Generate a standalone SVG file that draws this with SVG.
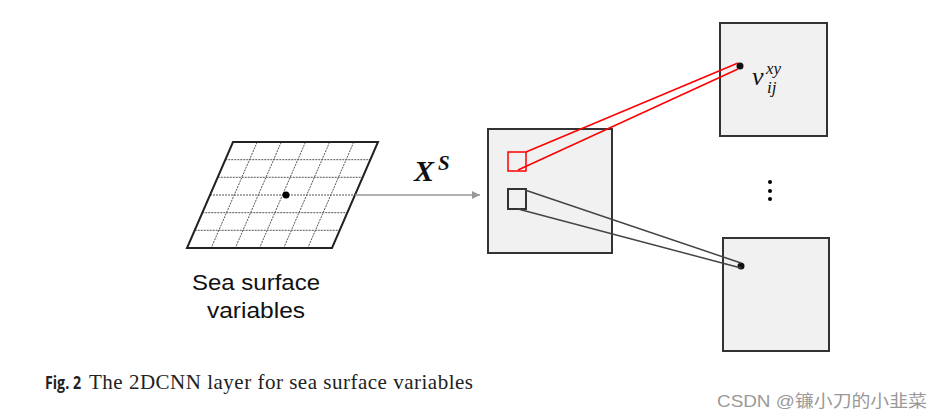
<svg xmlns="http://www.w3.org/2000/svg" width="943" height="419" viewBox="0 0 943 419">
<style>
.box{fill:#f1f1f1;stroke:#333;stroke-width:2}
.grid{stroke:#555;stroke-width:1;stroke-dasharray:2 1;fill:none}
.red{stroke:#f00;stroke-width:1.5;fill:none}
.dark{stroke:#444;stroke-width:1.5;fill:none}
.math{font-family:"Liberation Serif",serif;font-style:italic;fill:#111}
.sans{font-family:"Liberation Sans",Arial,sans-serif;fill:#111}
</style>
<defs>
<marker id="arr" viewBox="0 0 10 10" refX="10" refY="5" markerWidth="10" markerHeight="8" markerUnits="userSpaceOnUse" orient="auto">
<path d="M0,0 L10,5 L0,10 Z" fill="#999"/>
</marker>
</defs>
<rect width="943" height="419" fill="#fff"/>
<g id="grid-node">
<g class="grid">
<line x1="225.3" y1="159.7" x2="370.3" y2="159.7"/>
<line x1="217.7" y1="177.3" x2="362.7" y2="177.3"/>
<line x1="210" y1="195" x2="355" y2="195"/>
<line x1="202.3" y1="212.7" x2="347.3" y2="212.7"/>
<line x1="194.7" y1="230.3" x2="339.7" y2="230.3"/>
<line x1="257.2" y1="142" x2="211.2" y2="248"/>
<line x1="281.3" y1="142" x2="235.3" y2="248"/>
<line x1="305.5" y1="142" x2="259.5" y2="248"/>
<line x1="329.7" y1="142" x2="283.7" y2="248"/>
<line x1="353.8" y1="142" x2="307.8" y2="248"/>
</g>
<polygon points="233,142 378,142 332,248 187,248" fill="none" stroke="#222" stroke-width="2"/>
<circle cx="286" cy="195" r="3.5" fill="#000"/>
<text class="sans" x="192" y="290" font-size="22" textLength="128" lengthAdjust="spacingAndGlyphs">Sea surface</text>
<text class="sans" x="207" y="318" font-size="22" textLength="98" lengthAdjust="spacingAndGlyphs">variables</text>
</g>
<g id="feature-map">
<rect class="box" x="488" y="129" width="124" height="124"/>
<rect x="508" y="152" width="18" height="19" fill="none" stroke="#f00" stroke-width="1.5"/>
<rect x="508" y="189" width="18" height="20" fill="none" stroke="#333" stroke-width="2"/>
</g>
<g id="output-top">
<rect class="box" x="720" y="23" width="107" height="113"/>
<circle cx="740" cy="66" r="3.5" fill="#111"/>
<text class="math" x="752" y="85" font-size="26">v</text>
<text class="math" x="766" y="74" font-size="17">xy</text>
<text class="math" x="767" y="93" font-size="17">ij</text>
</g>
<g id="ellipsis">
<circle cx="770" cy="182" r="2" fill="#000"/>
<circle cx="770" cy="191" r="2" fill="#000"/>
<circle cx="770" cy="199" r="2" fill="#000"/>
</g>
<g id="output-bottom">
<rect class="box" x="723" y="238" width="106" height="113"/>
<circle cx="741" cy="266" r="3.5" fill="#111"/>
</g>
<g id="connectors">
<line x1="355" y1="195" x2="480" y2="195" stroke="#999" stroke-width="1.5" marker-end="url(#arr)"/>
<line class="red" x1="526" y1="152" x2="738" y2="63"/>
<line class="red" x1="518" y1="170" x2="738" y2="69"/>
<line class="dark" x1="525" y1="190" x2="741" y2="263"/>
<line class="dark" x1="518" y1="209" x2="741" y2="268"/>
</g>
<g id="xs-label">
<text x="414" y="181" font-family="Liberation Serif,serif" font-style="italic" font-weight="bold" font-size="30" fill="#111">X</text>
<text x="438" y="170" font-family="Liberation Serif,serif" font-style="italic" font-weight="bold" font-size="21" fill="#111">S</text>
</g>
<g id="caption">
<text x="45" y="389" font-family="'Open Sans','Liberation Sans',sans-serif" font-weight="bold" font-size="17" fill="#222" textLength="36" lengthAdjust="spacingAndGlyphs">Fig. 2</text>
<text x="89" y="389" font-family="'Liberation Serif',serif" font-size="21" fill="#222" textLength="384" lengthAdjust="spacing">The 2DCNN layer for sea surface variables</text>
</g>
<text x="717" y="407" font-family="'Liberation Sans','Noto Sans CJK SC',sans-serif" font-size="17" fill="#999" textLength="210" lengthAdjust="spacingAndGlyphs">CSDN @镰小刀的小韭菜</text>
</svg>
